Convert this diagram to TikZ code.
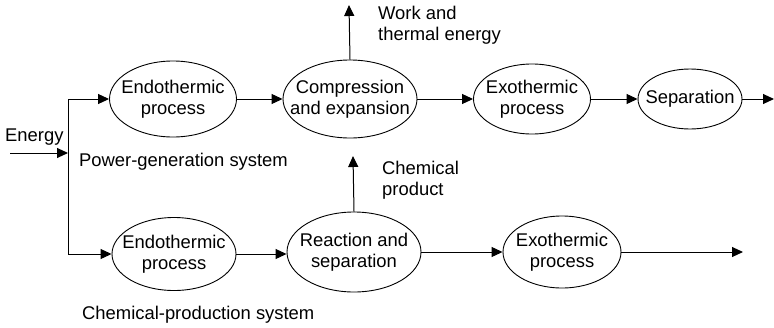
\documentclass[tikz,border=0pt]{standalone}
\usepackage{fontspec}
\setmainfont{Liberation Sans}
\usetikzlibrary{arrows.meta,shapes.geometric}
\begin{document}
\begin{tikzpicture}[x=1pt,y=-1pt,
  txt/.style={inner sep=0pt,align=center,font=\fontsize{18.4}{21}\selectfont},
  proc/.style={draw,ellipse,line width=0.9pt,inner sep=0pt,
    label={[txt]center:#1}},
  lbl/.style={inner sep=0pt,align=left,font=\fontsize{18.4}{21}\selectfont},
  arr/.style={line width=1pt,-{Triangle[length=11pt,width=10pt]}}]
\useasboundingbox (0,0) rectangle (774,327);

% power-generation branch
\node[proc={Endothermic\\process},minimum width=127pt,minimum height=76pt] (endoA) at (173,99) {};
\node[proc={Compression\\and expansion},minimum width=134pt,minimum height=78pt] (comp) at (350,99) {};
\node[proc={Exothermic\\process},minimum width=117pt,minimum height=70pt] (exoA) at (532,99) {};
\node[proc={Separation},minimum width=104pt,minimum height=60pt] (sep) at (690,99) {};

% chemical-production branch
\node[proc={Endothermic\\process},minimum width=124pt,minimum height=73pt] (endoB) at (174,254) {};
\node[proc={Reaction and\\separation},minimum width=134pt,minimum height=80pt] (react) at (354,252) {};
\node[proc={Exothermic\\process},minimum width=118pt,minimum height=72pt] (exoB) at (562,252) {};

% labels
\node[lbl,anchor=west] (energy) at (5,137) {Energy};
\node[lbl,anchor=west] (pgs) at (79,162) {Power-generation system};
\node[lbl,anchor=west] (cps) at (82,315) {Chemical-production system};
\node[lbl,anchor=north west] (work) at (378,6) {Work and\\thermal energy};
\node[lbl,anchor=north west] (chem) at (382,161) {Chemical\\product};

% free ends and junction
\coordinate (ein) at (10,153);
\coordinate (ej) at (68,153);
\coordinate (outW) at (349,5);
\coordinate (outC) at (353,156);
\coordinate (outA) at (774,99);
\coordinate (outB) at (743,252);

% connectors
\draw[arr] (ein) -- (ej);
\draw[arr] (ej) |- (endoA.west);
\draw[arr] (ej) |- (endoB.west);
\draw[arr] (endoA) -- (comp);
\draw[arr] (comp) -- (exoA);
\draw[arr] (exoA) -- (sep);
\draw[arr] (sep) -- (outA);
\draw[arr] (comp.north) -- (outW);
\draw[arr] (endoB.east) -- (react.west |- endoB.east);
\draw[arr] (react) -- (exoB);
\draw[arr] (exoB) -- (outB);
\draw[arr] (react.north) -- (outC);
\end{tikzpicture}
\end{document}
